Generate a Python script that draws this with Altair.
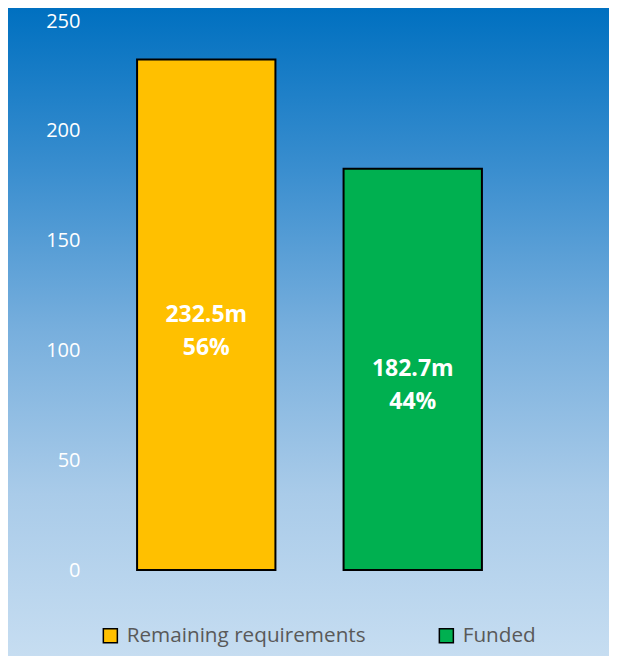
import altair as alt
import pandas as pd

categories = ["Remaining requirements", "Funded"]
values = [232.5, 182.7]
percents = [56, 44]
colors = ["#FFC000", "#00B050"]
y_ticks = [0, 50, 100, 150, 200, 250]

df = pd.DataFrame({
    "category": categories,
    "value": values,
    "label": [f"{v}m\n{p}%" for v, p in zip(values, percents)],
})

W, H = 413, 549
PAD = {"left": 95, "top": 13, "right": 93, "bottom": 86}

x_enc = alt.X("category:N", sort=categories, axis=None,
              scale=alt.Scale(paddingInner=0.33, paddingOuter=0.165))
y_scale = alt.Scale(domain=[0, 250])
y_axis = alt.Axis(
    values=y_ticks, title=None, domain=False, ticks=False, grid=False,
    labelColor="white", labelFontSize=20, labelFont="Open Sans",
    labelPadding=23, zindex=2)

bg = alt.Chart(pd.DataFrame({"k": [0]})).mark_rect(
    fill=alt.Gradient(
        gradient="linear", x1=0, x2=0, y1=0, y2=1,
        stops=[
            alt.GradientStop(offset=0, color="#0070C0"),
            alt.GradientStop(offset=0.25, color="#3A8ECF"),
            alt.GradientStop(offset=0.5, color="#78AFDD"),
            alt.GradientStop(offset=0.75, color="#A9CBE9"),
            alt.GradientStop(offset=1, color="#C6DDF1"),
        ],
    )
).encode(
    x=alt.value(-PAD["left"]), x2=alt.value(W + PAD["right"]),
    y=alt.value(-PAD["top"]), y2=alt.value(H + PAD["bottom"]),
)

bars = alt.Chart(df).mark_bar(stroke="black", strokeWidth=2).encode(
    x=x_enc,
    y=alt.Y("value:Q", scale=y_scale, axis=y_axis),
    color=alt.Color("category:N", sort=categories,
                    scale=alt.Scale(domain=categories, range=colors),
                    legend=alt.Legend(
                        title=None, orient="none", legendX=-3, legendY=604,
                        direction="horizontal", symbolType="square",
                        symbolSize=196, symbolStrokeColor="black",
                        symbolStrokeWidth=1.5, symbolOpacity=1,
                        labelFontSize=20.7, labelFont="Open Sans",
                        labelColor="#595959", labelOffset=6,
                        columnPadding=70, labelLimit=400, zindex=2)),
)

text = alt.Chart(df).mark_text(
    color="white", fontWeight="bold", fontSize=23, font="Open Sans",
    lineBreak="\n", lineHeight=33, baseline="middle", align="center",
).encode(
    x=x_enc,
    y=alt.Y("mid:Q", scale=y_scale, axis=y_axis),
    text="label:N",
).transform_calculate(mid="datum.value / 2")

chart = alt.layer(bg, bars, text).properties(
    width=W, height=H, padding=PAD,
    autosize=alt.AutoSizeParams(type="none"),
).configure_view(stroke=None)

chart.save("out.html", embed_options={"renderer": "svg", "actions": False})
